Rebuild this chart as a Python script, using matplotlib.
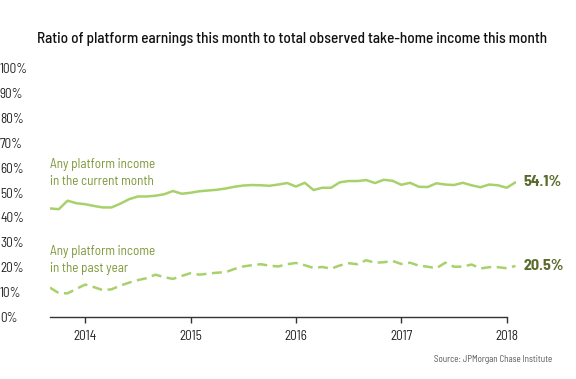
import matplotlib
matplotlib.use("Agg")
import matplotlib.pyplot as plt
import numpy as np
import pandas as pd

plt.rcParams['font.family'] = ['Barlow Semi Condensed', 'Roboto Condensed', 'DejaVu Sans']

# Monthly data, Sep 2013 - Feb 2018
dates = pd.date_range("2013-09-01", periods=54, freq="MS")
current_month = [43.6, 43.3, 46.7, 45.7, 45.3, 44.6, 44.0, 44.0, 45.5, 47.3,
                 48.4, 48.4, 48.7, 49.3, 50.6, 49.5, 49.9, 50.5, 50.8, 51.1,
                 51.6, 52.3, 52.8, 53.0, 52.9, 52.7, 53.2, 53.8, 52.4, 53.9,
                 51.0, 51.9, 51.9, 54.1, 54.6, 54.6, 55.0, 53.8, 55.1, 54.7,
                 53.1, 53.9, 52.3, 52.2, 53.7, 53.2, 53.0, 53.9, 52.9, 52.1,
                 53.2, 52.9, 51.9, 54.1]
past_year = [11.8, 9.6, 9.5, 11.3, 13.0, 12.0, 10.8, 11.1, 12.6, 13.8,
             14.8, 15.6, 17.0, 16.0, 15.3, 16.5, 17.6, 17.0, 17.4, 17.8,
             18.0, 19.3, 20.3, 20.8, 21.2, 20.6, 20.3, 21.2, 21.7, 20.8,
             19.7, 20.1, 19.4, 20.7, 21.6, 21.2, 22.8, 21.8, 22.0, 22.5,
             21.3, 21.8, 20.6, 20.2, 19.6, 21.8, 20.2, 20.2, 21.1, 19.5,
             20.0, 20.0, 19.6, 20.5]
year_ticks = [2014, 2015, 2016, 2017, 2018]
y_ticks = list(range(0, 101, 10))
series_labels = ["Any platform income\nin the current month",
                 "Any platform income\nin the past year"]
end_labels = ["54.1%", "20.5%"]

x = dates.year + (dates.month - 1) / 12.0

line_color = "#a9d16b"
label_color = "#7d9736"
end_color = "#5b6b2c"

fig = plt.figure(figsize=(5.76, 3.79), dpi=100)
W, H = 576, 379
ax = fig.add_axes([50 / W, (H - 317) / H, (515.5 - 50) / W, (317 - 68) / H])

ax.plot(x, current_month, color=line_color, lw=1.8, solid_capstyle='round')
ax.plot(x, past_year, color=line_color, lw=1.8, ls=(0, (4, 2.2)))

ax.set_xlim(x[0], x[-1])
ax.set_ylim(0, 100)
ax.set_xticks(year_ticks)
ax.set_xticklabels([str(t) for t in year_ticks], fontsize=9.5, color="#222222")
ax.set_yticks(y_ticks)
ax.set_yticklabels([f"{t}%" for t in y_ticks], fontsize=9.5, color="#222222")

for s in ["top", "right", "left"]:
    ax.spines[s].set_visible(False)
ax.spines["bottom"].set_bounds(x[0], year_ticks[-1])
ax.spines["bottom"].set_color("#333333")
ax.spines["bottom"].set_linewidth(1.0)
ax.tick_params(axis="x", length=4, width=1, color="#333333", pad=5)
ax.tick_params(axis="y", length=0, pad=36)
for lab in ax.get_yticklabels():
    lab.set_horizontalalignment("left")

ax.text(x[0], 64.0, series_labels[0], fontsize=9.5, color=label_color,
        ha="left", va="top", linespacing=1.45)
ax.text(x[0], 29.0, series_labels[1], fontsize=9.5, color=label_color,
        ha="left", va="top", linespacing=1.45)

ax.annotate(end_labels[0], xy=(x[-1], current_month[-1]), xytext=(6, 0),
            textcoords="offset points", fontsize=11.5, fontweight="bold",
            color=end_color, va="center", ha="left", annotation_clip=False)
ax.annotate(end_labels[1], xy=(x[-1], past_year[-1]), xytext=(6, 0),
            textcoords="offset points", fontsize=11.5, fontweight="bold",
            color=end_color, va="center", ha="left", annotation_clip=False)

fig.text(292 / W, 1 - 39 / H,
         "Ratio of platform earnings this month to total observed take-home income this month",
         fontsize=11, fontweight="medium", color="#111111", ha="center", va="center")
fig.text(552 / W, 1 - 359 / H, "Source: JPMorgan Chase Institute",
         fontsize=6.5, color="#555555", ha="right", va="center")

fig.savefig("out.png", dpi=100)
